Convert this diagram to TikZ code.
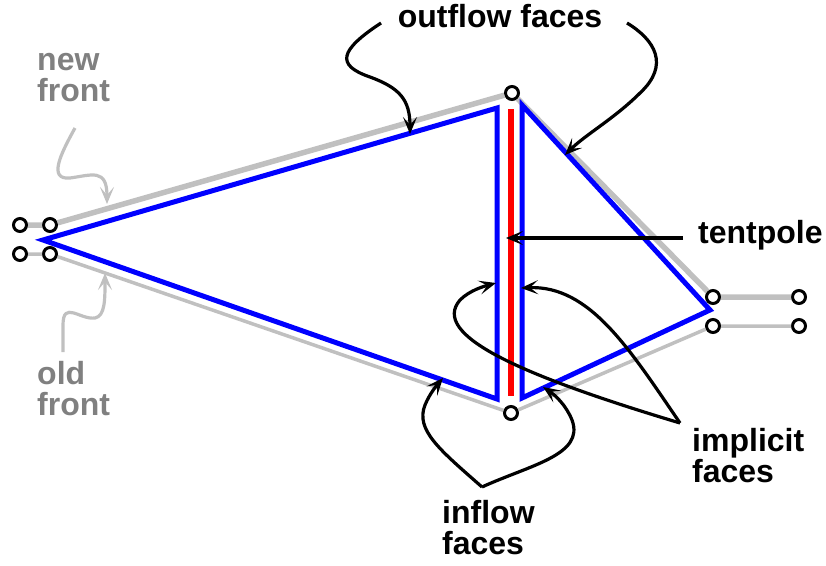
\documentclass[tikz,border=0pt]{standalone}
\usepackage{fontspec}
\setmainfont{Liberation Sans}
\usetikzlibrary{arrows.meta}
\definecolor{frontgray}{RGB}{192,192,192}
\definecolor{labelgray}{RGB}{128,128,128}

\begin{document}
\begin{tikzpicture}[
    x=1pt, y=-1pt,
    lab/.style={font=\bfseries\fontsize{32}{31}\selectfont, text=black, align=left, inner sep=0pt},
    frontlab/.style={lab, text=labelgray},
    vertex/.style={circle, draw=black, line width=3pt, minimum size=13pt, inner sep=0pt},
    newfront/.style={draw=frontgray, line width=5.5pt},
    oldfront/.style={draw=frontgray, line width=3.5pt},
    face/.style={draw=blue, line width=5pt},
    pole/.style={draw=red, line width=5.5pt},
    pointer/.style={draw=black, line width=3.2pt, -{Stealth[length=17pt, width=14pt, inset=8pt]}},
    graypointer/.style={pointer, draw=frontgray},
  ]
  \useasboundingbox (0,0) rectangle (826,565);

  % ---------------- vertices of the two fronts -----------------------------
  \node[vertex] (nl1) at (20,225)  {};
  \node[vertex] (nl2) at (50,225)  {};
  \node[vertex] (ol1) at (20,254)  {};
  \node[vertex] (ol2) at (50,254)  {};
  \node[vertex] (top) at (512,93)  {};
  \node[vertex] (bot) at (511,413) {};
  \node[vertex] (nr1) at (713,297) {};
  \node[vertex] (nr2) at (799,297) {};
  \node[vertex] (or1) at (713,326) {};
  \node[vertex] (or2) at (799,326) {};

  % ---------------- new front (thick) and old front (thin) -----------------
  \draw[newfront] (nl1) -- (nl2) -- (top) -- (nr1) -- (nr2);
  \draw[oldfront] (ol1) -- (ol2) -- (bot) -- (or1) -- (or2);

  % ---------------- the two tents and the tentpole -------------------------
  \draw[face] (43,240) -- (497,108) -- (497,399) -- cycle;
  \draw[face] (522,105) -- (710,310) -- (522,398) -- cycle;
  \draw[pole] (511,109) -- (511,396);

  % ---------------- labels (base = last line) ------------------------------
  \node[lab, anchor=base]            (outflow)  at (500,27)  {outflow faces};
  \node[lab, anchor=base west]       (tentpole) at (698,243) {tentpole};
  \node[lab, anchor=base west]       (implicit) at (692,482) {implicit\\faces};
  \node[lab, anchor=base west]       (inflow)   at (442,554) {inflow\\faces};
  \node[frontlab, anchor=base west]  (newlab)   at (37,101)  {new\\front};
  \node[frontlab, anchor=base west]  (oldlab)   at (37,415)  {old\\front};

  % ---------------- pointer ends -------------------------------------------
  \coordinate (outL)    at (381,23);   \coordinate (outLtip) at (410,134);
  \coordinate (outR)    at (627,23);   \coordinate (outRtip) at (565,155);
  \coordinate (poleS)   at (683,238);  \coordinate (poleTip) at (506,238);
  \coordinate (impJ)    at (680,423);
  \coordinate (impLtip) at (496,283);  \coordinate (impRtip) at (521,288);
  \coordinate (inJ)     at (482,487);
  \coordinate (inLtip)  at (443,378);  \coordinate (inRtip)  at (543,387);
  \coordinate (newS)    at (75,128);   \coordinate (newTip)  at (107,204);
  \coordinate (oldS)    at (63,352);   \coordinate (oldTip)  at (105,273);

  % ---------------- pointers -----------------------------------------------
  % outflow faces
  \draw[pointer] (outL) .. controls (340,50) and (335,65) .. (370,77)
                        .. controls (400,88) and (410,100) .. (outLtip);
  \draw[pointer] (outR) .. controls (655,40) and (670,65) .. (640,93)
                        .. controls (615,118) and (585,135) .. (outRtip);
  % tentpole
  \draw[pointer] (poleS) -- (poleTip);
  % implicit faces
  \draw[pointer] (impJ) .. controls (630,350) and (590,285) .. (impRtip);
  \draw[pointer] (impJ) .. controls (520,375) and (430,335) .. (460,300)
                        .. controls (470,290) and (485,286) .. (impLtip);
  % inflow faces
  \draw[pointer] (inJ) .. controls (440,450) and (415,430) .. (425,405)
                       .. controls (430,393) and (437,385) .. (inLtip);
  \draw[pointer] (inJ) .. controls (530,465) and (585,455) .. (572,420)
                       .. controls (566,405) and (555,395) .. (inRtip);
  % fronts
  \draw[graypointer] (newS) .. controls (60,155) and (48,180) .. (70,178)
                            .. controls (92,175) and (107,168) .. (newTip);
  \draw[graypointer] (oldS) -- (63,325) .. controls (63,300) and (80,320) .. (95,318)
                            .. controls (105,316) and (105,300) .. (oldTip);

\end{tikzpicture}
\end{document}
